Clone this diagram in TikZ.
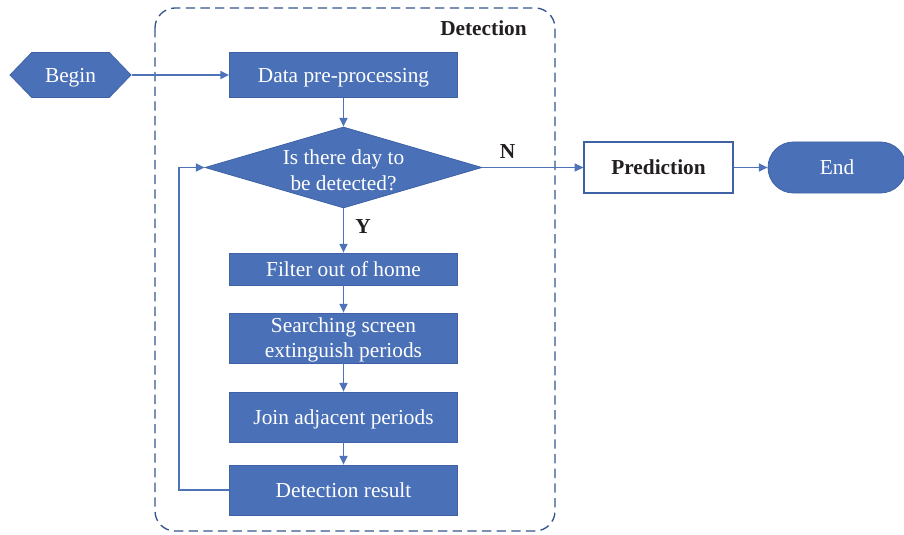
\documentclass[tikz,border=0pt]{standalone}
\usepackage{fontspec}
\setmainfont{Liberation Serif}
\usetikzlibrary{arrows.meta,shapes.geometric,shapes.misc,shapes.symbols}
\definecolor{boxblue}{HTML}{4A70B7}
\definecolor{edgeblue}{HTML}{3F62A6}
\definecolor{lineblue}{HTML}{4E73B9}
\definecolor{frameblue}{HTML}{34568C}
\definecolor{inkdark}{HTML}{231F20}
\tikzset{
  bodyfont/.style={font=\fontsize{16}{18}\selectfont},
  oneline/.style={text height=11pt, text depth=0.4pt},
  stepbox/.style={draw=edgeblue, line width=0.6pt, fill=boxblue, text=white,
    minimum width=171pt, align=center, inner sep=0pt, bodyfont},
  plaintext/.style={text=white, align=center, inner sep=0pt, bodyfont},
  conn/.style={draw=lineblue, line width=1.1pt, -{Triangle[length=6.5pt,width=6pt]}},
  lbl/.style={text=inkdark, font=\fontsize{16}{18}\selectfont\bfseries},
}
\begin{document}
\begin{tikzpicture}[x=0.75pt,y=-0.75pt]
\useasboundingbox (0,0) rectangle (904,535);

% dashed frame of the detection stage
\draw[frameblue, line width=1pt, dash pattern=on 7pt off 4pt, rounded corners=15pt]
  (155,8) rectangle (555,531);
\node[lbl, anchor=east, inner sep=0pt, oneline] (dettitle) at (527,28) {Detection};

% start terminal
\node[fill=boxblue, draw=edgeblue, line width=0.6pt, text=white, bodyfont, oneline,
  signal, signal to=west and east, signal pointer angle=92,
  minimum width=90.75pt, minimum height=33.75pt, inner sep=0pt] (begin) at (70.5,75) {Begin};

\node[stepbox, oneline, minimum height=33.75pt] (pre) at (343.5,75) {Data pre-processing};

% decision: outline, then its two-line question
\node[diamond, fill=boxblue, draw=edgeblue, line width=0.6pt, aspect=3.42,
  minimum width=207.75pt, minimum height=60.75pt, inner sep=0pt] (dec) at (343.5,167.5) {};
\node[plaintext] (dectext) at (343.5,170.5) {Is there day to\\[1.5pt]be detected?};

\node[draw=edgeblue, line width=0.9pt, fill=white, lbl, oneline, minimum width=111.75pt,
  minimum height=38.25pt, inner sep=0pt] (pred) at (658.5,167.5) {Prediction};

\node[fill=boxblue, draw=edgeblue, line width=0.6pt, text=white, bodyfont, oneline,
  rounded rectangle, minimum width=103.5pt, minimum height=38.25pt, inner sep=0pt] (end) at (837,167.5) {End};

\node[stepbox, oneline, minimum height=24pt] (filt) at (343.5,269) {Filter out of home};
\node[stepbox, minimum height=37.5pt] (search) at (343.5,338) {};
\node[plaintext] (searchtext) at (343.5,340) {Searching screen\\[1pt]extinguish periods};
\node[stepbox, oneline, minimum height=37.5pt] (join) at (343.5,417) {Join adjacent periods};
\node[stepbox, oneline, minimum height=37.5pt] (res) at (343.5,490) {Detection result};

% connectors
\draw[conn] (begin.east) -- (pre.west);
\draw[conn] (pre.south) -- (dec.north);
\draw[conn] (dec.east) -- node[lbl, pos=0.25, above=3pt] (nlab) {N} (pred.west);
\draw[conn] (pred.east) -- (end.west);
\draw[conn] (dec.south) -- node[lbl, right=5pt, pos=0.42] (ylab) {Y} (filt.north);
\draw[conn] (filt.south) -- (search.north);
\draw[conn] (search.south) -- (join.north);
\draw[conn] (join.south) -- (res.north);
\coordinate (loopbot) at (179,490);
\coordinate (looptop) at (179,167.5);
\draw[conn] (res.west) -- (loopbot) -- (looptop) -- (dec.west);
\end{tikzpicture}
\end{document}
